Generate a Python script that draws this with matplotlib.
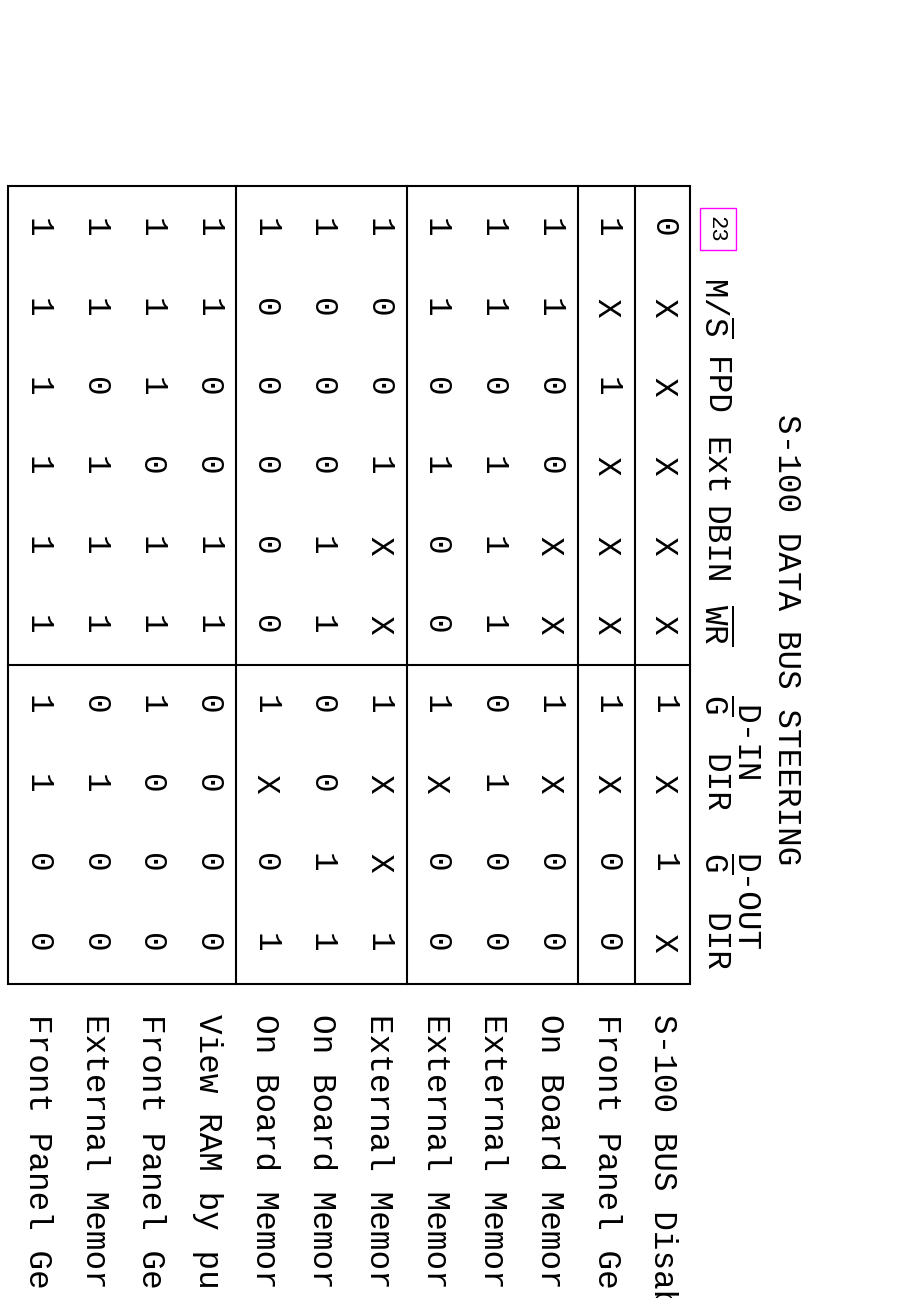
import matplotlib
matplotlib.use('Agg')
import matplotlib.pyplot as plt
from matplotlib.patches import Rectangle

# data of the truth table (one string per table row, X = don't care)
rows = [
    "0XXXXX1X1X",
    "1X1XXX1X00",
    "1100XX1X00",
    "1101110100",
    "1101001X00",
    "1001XX1XX1",
    "1000110011",
    "1000001X01",
    "1100110000",
    "1110111000",
    "1101110100",
    "1111111100",
]
descriptions = [
    "S-100 BUS Disab",
    "Front Panel Ge",
    "On Board Memor",
    "External Memor",
    "External Memor",
    "External Memor",
    "On Board Memor",
    "On Board Memor",
    "View RAM by pu",
    "Front Panel Ge",
    "External Memor",
    "Front Panel Ge",
]
header_left = ["23", r"M/$\overline{\mathrm{S}}$", "FPD", "Ext", "DBIN", r"$\overline{\mathrm{WR}}$"]
header_right = [r"$\overline{\mathrm{G}}$", "DIR", r"$\overline{\mathrm{G}}$", "DIR"]
groups = ["D-IN", "D-OUT"]
title = "S-100 DATA BUS STEERING"
row_breaks = [1, 2, 5, 8]   # separator line after these rows
col_break = 6               # separator between inputs and outputs

plt.rcParams['font.family'] = ['Liberation Mono', 'DejaVu Sans Mono']
plt.rcParams['mathtext.fontset'] = 'custom'
plt.rcParams['mathtext.rm'] = 'Liberation Mono'
plt.rcParams['mathtext.it'] = 'Liberation Mono'

fig = plt.figure(figsize=(9, 12.98), dpi=100)
ax = fig.add_axes([0, 0, 1, 1])
ax.set_xlim(0, 900)
ax.set_ylim(1298, 0)
ax.axis('off')

# page is rotated: table rows run right to left, columns top to bottom
x0 = 663
dx = 56.9
y0 = 228
dy = 79.4
left, right = 8, 690
top, bottom = 186, 984
fs = 23.5
lw = 1.5

ax.add_patch(Rectangle((left, top), right - left, bottom - top,
                       fill=False, edgecolor='black', lw=lw))
for b in row_breaks:
    xs = x0 - dx * (b - 0.5)
    ax.plot([xs, xs], [top, bottom], color='black', lw=lw)
ys = y0 + dy * (col_break - 0.5)
ax.plot([left, right], [ys, ys], color='black', lw=lw)

# cell values
for i, r in enumerate(rows):
    x = x0 - dx * i
    for j, v in enumerate(r):
        ax.text(x, y0 + dy * j, v, rotation=-90, ha='center', va='center',
                fontsize=fs)
    ax.text(x, 1014, descriptions[i], rotation=-90, rotation_mode='anchor',
            ha='left', va='center', fontsize=fs)

# header
hx = 714
for j, h in enumerate(header_left):
    if j == 0:
        continue
    ax.text(hx, y0 + dy * j, h, rotation=-90, ha='center', va='center',
            fontsize=fs)
for j, h in enumerate(header_right):
    ax.text(hx, y0 + dy * (col_break + j), h, rotation=-90, ha='center',
            va='center', fontsize=fs)
for k, g in enumerate(groups):
    yc = y0 + dy * (col_break + 2 * k + 0.5)
    ax.text(744, yc, g, rotation=-90, ha='center', va='center', fontsize=fs)

# pin marker box
ax.add_patch(Rectangle((700, 208), 36, 42, fill=False, edgecolor='#ff00ff',
                       lw=1))
ax.text(716, y0 + 1, header_left[0], rotation=-90, ha='center', va='center',
        fontsize=16)

ax.text(786, 640, title, rotation=-90, ha='center', va='center', fontsize=fs)

fig.savefig('out.png', dpi=100)
